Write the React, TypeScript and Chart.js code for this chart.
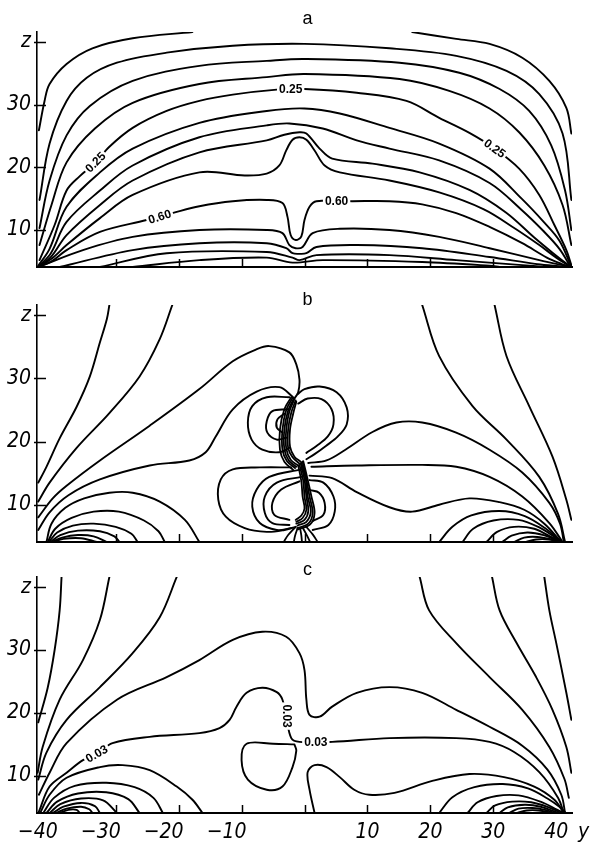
import { useEffect, useRef } from "react";
import { Chart, registerables } from "chart.js";

Chart.register(...registerables);

type Pt = [number, number];
type Tag = { x: number; z: number; text: string; angle: number };

// ---- axes ----
const hRange: Pt = [-42.5, 42.5];
const zRange: Pt = [4.1, 41.6];
const hTickValues = [-30, -20, -10, 0, 10, 20, 30];
const hLabelValues = [-40, -30, -20, -10, 10, 20, 30, 40];
const hLabelText = ["−40", "−30", "−20", "−10", "10", "20", "30", "40"];
const zTickValues = [10, 20, 30, 40];
const zTickText = ["10", "20", "30", "z"];
const hAxisName = "y";
const panelLetters = ["a", "b", "c"];

// ---- panel a: isolines ----
const aOuterLeft: Pt[] = [[-42.2, 25.9], [-41.3, 30.6], [-40.5, 33.3], [-37.8, 36.5], [-33.7, 39.0], [-27.3, 40.6], [-17.8, 41.6]];
const aOuterRight: Pt[] = [[17.1, 41.6], [24.1, 40.5], [29.4, 39.7], [34.6, 37.5], [38.9, 33.8], [41.6, 29.5], [42.4, 25.4]];
const aArch2: Pt[] = [[-42.1, 14.8], [-40.5, 23.8], [-37.8, 30.6], [-34.6, 34.3], [-29.8, 36.7], [-21.9, 38.3], [-11.4, 39.4], [0, 39.7], [13.5, 39.0], [24.1, 37.8], [32.1, 35.4], [37.3, 31.7], [41.0, 25.4], [42.4, 14.8]];
const aArch3: Pt[] = [[-42.1, 10.3], [-40.5, 17.9], [-37.8, 25.1], [-34.1, 29.8], [-27.3, 33.8], [-16.7, 36.2], [-6.0, 37.0], [0, 37.3], [15.1, 36.7], [24.6, 35.1], [31.0, 32.5], [35.7, 29.0], [39.2, 23.5], [41.4, 16.3], [42.4, 10.0]];
const aArch4: Pt[] = [[-42.1, 7.6], [-40.2, 14.0], [-37.8, 20.8], [-33.3, 26.2], [-27.3, 30.3], [-16.7, 33.3], [-6.0, 34.4], [0, 34.9], [15.1, 34.1], [23.0, 32.2], [29.4, 29.4], [34.1, 25.6], [38.1, 20.3], [41.0, 14.0], [42.4, 7.6]];
const aLevel025: Pt[] = [[-42.1, 5.2], [-39.7, 10.8], [-37.8, 16.3], [-35.7, 18.6], [-33.2, 20.8], [-31.0, 23.3], [-27.3, 26.3], [-21.9, 29.0], [-16.7, 30.6], [-11.4, 31.6], [-4.4, 32.4], [0, 32.5], [8.3, 31.9], [16.2, 30.6], [21.4, 27.9], [26.2, 25.5], [30.2, 23.0], [34.1, 19.8], [37.3, 15.6], [39.7, 10.8], [41.6, 6.8], [42.4, 4.4]];
const aArch6: Pt[] = [[-42.3, 4.3], [-40.5, 7.0], [-37.8, 13.7], [-32.5, 19.2], [-27.3, 23.0], [-16.7, 27.1], [-6.0, 29.0], [0, 29.4], [5.6, 28.6], [13.5, 26.3], [21.4, 23.8], [29.4, 19.8], [34.5, 15.0], [38.0, 11.3], [40.5, 8.3], [42.3, 4.4]];
const aArch7: Pt[] = [[-42.3, 4.1], [-40.3, 6.3], [-37.8, 11.3], [-32.5, 16.3], [-27.3, 20.3], [-16.7, 24.8], [-6.0, 26.7], [-2.4, 27.0], [2.9, 26.2], [8.3, 24.3], [13.5, 23.0], [21.4, 21.1], [29.4, 17.5], [34.5, 13.2], [38.0, 9.8], [40.5, 7.0], [42.3, 4.1]];
const aArch8: Pt[] = [[-42.3, 4.1], [-40.2, 5.8], [-37.8, 9.2], [-32.5, 14.0], [-27.3, 17.9], [-16.7, 22.4], [-6.0, 24.3], [-3.2, 25.2], [-0.8, 25.6], [0.3, 25.4], [2.4, 23.0], [4.4, 21.4], [10.8, 20.6], [18.3, 19.2], [26.2, 16.4], [32.0, 12.8], [36.5, 8.8], [39.5, 6.3], [42.3, 4.1]];
const aArch9: Pt[] = [[-42.3, 4.1], [-40.2, 5.4], [-37.8, 7.6], [-32.5, 11.9], [-27.3, 15.6], [-16.7, 19.2], [-9.5, 18.7], [-6.0, 19.0], [-4.0, 20.3], [-2.9, 22.7], [-1.9, 24.4], [-0.8, 24.8], [0.3, 24.4], [1.6, 22.7], [3.2, 20.3], [5.6, 19.2], [13.5, 17.9], [21.4, 16.0], [28.5, 13.3], [33.5, 10.2], [37.3, 7.6], [40.0, 5.6], [42.3, 4.1]];
const aLevel060: Pt[] = [[-42.3, 4.1], [-40.2, 5.0], [-37.8, 6.8], [-32.5, 9.7], [-25.1, 11.6], [-21.0, 12.7], [-16.7, 13.8], [-11.4, 14.6], [-6.0, 14.8], [-3.5, 14.3], [-2.7, 12.1], [-2.2, 9.2], [-1.4, 8.4], [-0.5, 9.0], [0, 11.6], [0.8, 13.7], [1.9, 14.6], [7.6, 14.6], [13.5, 14.6], [18.7, 14.1], [24.1, 12.7], [29.4, 10.5], [34.6, 7.9], [38.5, 5.6], [40.8, 4.6], [42.3, 4.1]];
const aLow1: Pt[] = [[-42.3, 4.1], [-35.2, 6.8], [-27.3, 8.9], [-16.7, 10.0], [-6.0, 10.0], [-3.5, 9.5], [-2.4, 7.6], [-1.4, 7.1], [-0.3, 7.3], [1.3, 9.5], [5.6, 10.2], [13.5, 10.0], [21.4, 8.9], [29.4, 7.1], [37.3, 5.2], [42.3, 4.1]];
const aLow2: Pt[] = [[-38.9, 4.1], [-27.3, 6.8], [-16.7, 7.9], [-6.0, 7.9], [-2.9, 7.1], [-1.9, 6.3], [-0.8, 6.2], [0.3, 6.3], [1.9, 7.3], [8.3, 7.6], [18.7, 7.1], [29.4, 5.7], [37.5, 4.5], [42.0, 4.1]];
const aLow3: Pt[] = [[-32.5, 4.1], [-21.9, 6.3], [-6.0, 6.5], [-1.9, 5.6], [-0.8, 5.2], [1.9, 6.0], [13.5, 6.0], [24.1, 5.2], [34.6, 4.4], [38.1, 4.1]];
const aLow4: Pt[] = [[-27.3, 4.1], [-16.7, 5.2], [-6.0, 5.6], [-1.9, 4.8], [2.9, 5.2], [18.7, 4.9], [29.4, 4.3], [31.0, 4.1]];

const aTags: Tag[] = [
  { x: -2.2, z: 32.5, text: "0.25", angle: 0 },
  { x: -33.2, z: 20.8, text: "0.25", angle: -45 },
  { x: 30.2, z: 23.0, text: "0.25", angle: 36 },
  { x: -23.0, z: 12.1, text: "0.60", angle: -18 },
  { x: 5.1, z: 14.6, text: "0.60", angle: 0 },
];

// ---- panel b: isolines ----
const bFanOuter: Pt[] = [[-42.3, 13.5], [-41.0, 16.0], [-38.9, 20.5], [-36.2, 25.5], [-34.1, 30.3], [-32.5, 35.7], [-31.4, 39.4], [-31.0, 41.6]];
const bFanInner: Pt[] = [[-42.3, 10.5], [-40.5, 13.5], [-36.2, 19.0], [-31.0, 24.5], [-26.2, 30.3], [-23.0, 36.2], [-21.0, 41.6]];
const bHump: Pt[] = [[-42.3, 8.0], [-40.0, 11.0], [-37.8, 13.0], [-32.5, 17.0], [-24.6, 22.5], [-16.7, 28.3], [-11.4, 32.7], [-7.6, 34.6], [-5.6, 35.1], [-2.4, 34.1], [-1.3, 32.2], [-0.8, 29.8], [-1.0, 27.8], [-1.6, 26.8]];
const bStep: Pt[] = [[-42.3, 6.0], [-40.5, 8.8], [-37.5, 11.5], [-32.5, 14.0], [-24.6, 16.2], [-18.3, 17.0], [-15.7, 18.3], [-14.1, 20.8], [-11.4, 25.1], [-7.6, 27.9], [-4.0, 28.6], [-1.9, 27.1], [-1.7, 26.8]];
const bEyeOuter: Pt[] = [[-2.4, 27.0], [-6.0, 27.0], [-8.3, 25.6], [-9.0, 23.0], [-8.4, 20.3], [-6.7, 18.7], [-4.0, 18.3], [-2.4, 19.0]];
const bEyeMiddle: Pt[] = [[-2.7, 25.1], [-5.1, 24.8], [-6.0, 23.2], [-5.9, 21.4], [-4.4, 20.3], [-2.9, 20.6]];
const bEyeInner: Pt[] = [[-3.2, 24.4], [-4.3, 23.5], [-4.4, 22.2], [-3.5, 21.4]];
const bBandUp1: Pt[] = [[-2.1, 27.0], [-3.2, 25.1], [-3.9, 21.9], [-3.9, 18.7], [-3.2, 16.8], [-1.8, 15.5]];
const bBandUp2: Pt[] = [[-1.9, 26.9], [-2.9, 25.0], [-3.5, 21.9], [-3.5, 18.7], [-2.8, 16.9], [-1.5, 15.8]];
const bBandUp3: Pt[] = [[-1.7, 26.8], [-2.6, 24.9], [-3.2, 21.9], [-3.2, 18.8], [-2.5, 17.0], [-1.3, 16.0]];
const bBandUp4: Pt[] = [[-1.6, 26.7], [-2.4, 24.8], [-2.9, 21.9], [-2.9, 18.9], [-2.2, 17.1], [-1.0, 16.2]];
const bBandUp5: Pt[] = [[-1.4, 26.5], [-2.1, 24.6], [-2.6, 21.9], [-2.6, 19.0], [-1.9, 17.5], [-0.8, 16.5]];
const bBandUp6: Pt[] = [[-1.3, 26.3], [-1.8, 24.4], [-2.3, 21.9], [-2.3, 19.2], [-1.6, 17.6], [-0.6, 16.8]];
const bLobeUpOuter: Pt[] = [[-1.1, 27.5], [0, 28.3], [2.4, 28.7], [5.1, 27.8], [6.7, 25.4], [6.7, 22.7], [5.3, 20.8], [3.4, 19.3], [1.6, 18.0], [0.3, 17.2]];
const bLobeUpInner: Pt[] = [[-1.0, 26.0], [0.5, 26.8], [2.7, 26.7], [4.3, 25.1], [4.6, 22.7], [3.7, 20.8], [1.9, 19.3], [0.3, 18.2]];
const bBandLow1: Pt[] = [[-0.2, 16.9], [0.5, 14.0], [1.1, 11.3], [1.6, 8.7], [0.9, 6.9], [-1.0, 6.1]];
const bBandLow2: Pt[] = [[-0.3, 16.8], [0.3, 14.0], [0.8, 11.3], [1.3, 8.7], [0.6, 7.0], [-1.1, 6.3]];
const bBandLow3: Pt[] = [[-0.5, 16.7], [0.2, 14.0], [0.5, 11.3], [1.0, 8.9], [0.3, 7.3], [-1.1, 6.7]];
const bBandLow4: Pt[] = [[-0.6, 16.5], [0, 14.0], [0.3, 11.3], [0.6, 9.0], [0, 7.6], [-1.3, 7.0]];
const bBandLow5: Pt[] = [[-0.8, 16.3], [-0.2, 13.8], [0, 11.3], [0.3, 9.2], [-0.3, 7.9], [-1.3, 7.3]];
const bBandLow6: Pt[] = [[-1.0, 16.2], [-0.5, 13.7], [-0.3, 11.3], [0, 9.4], [-0.5, 8.3], [-1.4, 7.6]];
const bLobeLow1: Pt[] = [[-2.1, 15.9], [-7.1, 15.9], [-11.4, 15.6], [-13.3, 14.0], [-13.7, 10.8], [-12.5, 8.1], [-9.5, 6.3], [-6.0, 5.7], [-3.2, 6.0], [-1.4, 6.5]];
const bLobeLow2: Pt[] = [[-0.5, 15.6], [-5.6, 14.4], [-7.6, 12.4], [-8.3, 9.7], [-7.1, 7.1], [-4.4, 6.0], [-2.1, 6.3]];
const bLobeLow3: Pt[] = [[-0.5, 14.4], [-4.4, 13.5], [-6.3, 11.3], [-6.3, 8.7], [-5.1, 7.1], [-2.4, 6.8]];
const bLobeLow4: Pt[] = [[-0.8, 13.7], [-3.7, 12.4], [-5.1, 10.3], [-4.8, 8.4], [-2.4, 7.6]];
const bLoopRight1: Pt[] = [[0.9, 12.3], [2.3, 11.9], [3.2, 10.3], [3.0, 8.4], [1.3, 7.4]];
const bLoopRight2: Pt[] = [[0.8, 13.9], [3.0, 13.5], [4.6, 11.3], [4.8, 8.9], [3.8, 6.8], [1.3, 6.0]];
const bFoot1: Pt[] = [[-1.4, 6.5], [-2.6, 5.2], [-3.3, 4.1]];
const bFoot2: Pt[] = [[-1.1, 6.3], [-1.5, 5.1], [-1.7, 4.1]];
const bFoot3: Pt[] = [[-0.7, 6.3], [-0.5, 5.1], [-0.4, 4.1]];
const bFoot4: Pt[] = [[-0.3, 6.4], [0.4, 5.1], [0.9, 4.1]];
const bFoot5: Pt[] = [[0.2, 6.6], [1.3, 5.3], [2.1, 4.1]];
const bRightHump: Pt[] = [[0.6, 16.6], [3.5, 17.0], [6.5, 18.7], [10.8, 21.5], [14.6, 23.0], [18.7, 23.0], [24.1, 21.4], [29.4, 18.7], [34.6, 15.1], [38.9, 10.3], [40.6, 7.0], [41.2, 4.1]];
const bRightMid: Pt[] = [[1.1, 16.0], [8.3, 16.2], [18.7, 16.3], [24.1, 16.0], [29.4, 14.4], [34.6, 11.3], [38.9, 7.1], [41.0, 4.1]];
const bRightDip: Pt[] = [[0.8, 14.6], [4.4, 14.2], [8.3, 12.0], [13.5, 9.6], [17.1, 8.9], [21.4, 10.0], [26.2, 11.0], [31.0, 10.4], [34.9, 9.2], [38.1, 7.0], [40.8, 4.1]];
const bFanRight1: Pt[] = [[18.7, 41.6], [21.4, 33.5], [26.7, 25.6], [32.1, 20.3], [37.3, 14.4], [40.3, 8.5], [41.4, 4.1]];
const bFanRight2: Pt[] = [[30.2, 41.6], [32.1, 33.5], [35.7, 25.6], [39.4, 17.6], [41.6, 10.8], [42.4, 7.6]];
const bArcRight1: Pt[] = [[21.4, 4.1], [23.5, 6.5], [26.5, 8.3], [31.0, 9.0], [35.0, 8.2], [38.2, 6.3], [40.8, 4.1]];
const bArcRight2: Pt[] = [[25.1, 4.1], [26.8, 6.2], [30.0, 7.5], [34.0, 7.6], [37.3, 6.4], [39.7, 4.9], [40.8, 4.1]];
const bArcRight3: Pt[] = [[28.9, 4.1], [30.6, 5.7], [33.3, 6.5], [36.5, 6.2], [39.0, 5.0], [40.8, 4.1]];
const bArcRight4: Pt[] = [[31.4, 4.1], [32.9, 5.1], [35.4, 5.6], [38.0, 5.2], [40.8, 4.1]];
const bArcRight5: Pt[] = [[33.3, 4.1], [34.9, 4.8], [37.0, 4.9], [39.3, 4.5], [40.8, 4.1]];
const bArcRight6: Pt[] = [[35.2, 4.1], [36.8, 4.5], [38.8, 4.5], [40.8, 4.1]];
const bArcLeft1: Pt[] = [[-41.0, 4.1], [-40.2, 7.0], [-38.0, 9.5], [-35.0, 11.0], [-31.0, 11.9], [-27.3, 11.9], [-23.0, 10.5], [-19.0, 7.6], [-16.7, 4.1]];
const bArcLeft2: Pt[] = [[-40.8, 4.1], [-39.6, 6.2], [-37.0, 7.9], [-33.5, 8.9], [-29.5, 8.9], [-25.5, 7.5], [-23.2, 5.8], [-22.2, 4.1]];
const bArcLeft3: Pt[] = [[-40.6, 4.1], [-39.3, 5.6], [-36.8, 6.7], [-33.5, 7.0], [-30.0, 6.5], [-27.5, 5.4], [-26.5, 4.1]];
const bArcLeft4: Pt[] = [[-40.4, 4.1], [-38.8, 5.2], [-36.0, 5.9], [-32.5, 5.8], [-30.2, 5.0], [-29.4, 4.1]];
const bArcLeft5: Pt[] = [[-40.2, 4.1], [-38.5, 4.8], [-36.0, 5.2], [-33.5, 5.0], [-31.4, 4.1]];
const bArcLeft6: Pt[] = [[-40.0, 4.1], [-38.3, 4.6], [-35.5, 4.7], [-33.0, 4.1]];

// ---- panel c: isolines ----
const cFan1: Pt[] = [[-38.6, 41.6], [-38.9, 36.3], [-39.7, 30.0], [-40.8, 24.0], [-42.3, 18.5]];
const cFan2: Pt[] = [[-31.0, 41.6], [-32.5, 34.8], [-35.2, 28.4], [-38.9, 22.1], [-41.6, 14.6], [-42.4, 10.5]];
const cFan3: Pt[] = [[-20.3, 41.6], [-23.0, 35.2], [-27.3, 29.5], [-32.5, 24.1], [-37.8, 18.9], [-41.0, 13.7], [-42.3, 9.4]];
const cHump: Pt[] = [[-42.2, 7.0], [-40.5, 10.5], [-37.8, 15.2], [-29.8, 22.1], [-21.9, 25.7], [-16.7, 28.4], [-11.4, 31.6], [-6.7, 32.9], [-2.9, 32.1], [-0.8, 29.5], [0, 26.8], [0.3, 22.1], [0.8, 19.7], [2.4, 19.4], [4.4, 21.0], [8.3, 23.2], [13.5, 24.1], [18.7, 23.2], [24.1, 20.5], [29.4, 17.8], [34.6, 14.8], [38.6, 11.0], [40.8, 7.0], [41.4, 4.1]];
const cLevel003: Pt[] = [[-42.2, 4.3], [-40.5, 8.3], [-37.8, 10.5], [-35.2, 12.5], [-33.0, 13.5], [-30.5, 15.2], [-24.6, 16.2], [-16.7, 16.8], [-13.5, 17.6], [-11.9, 18.9], [-10.8, 21.0], [-9.2, 23.2], [-6.7, 24.0], [-4.4, 23.3], [-3.5, 22.1], [-2.9, 19.4], [-2.1, 16.0], [-0.8, 15.4], [4.4, 15.4], [13.5, 16.0], [24.1, 16.0], [29.4, 15.4], [33.3, 13.8], [37.3, 10.6], [40.3, 6.5], [41.2, 4.1]];
const cLoop: Pt[] = [[-1.6, 15.0], [-5.0, 15.1], [-9.2, 15.1], [-10.0, 12.5], [-9.0, 9.4], [-6.0, 7.8], [-3.5, 8.3], [-1.9, 11.4], [-1.3, 14.0], [-1.6, 15.0]];
const cArcLeft0: Pt[] = [[-42.0, 4.1], [-40.5, 7.0], [-37.8, 9.7], [-32.5, 11.4], [-28.9, 11.7], [-24.6, 10.9], [-20.3, 8.3], [-17.8, 6.2], [-16.2, 4.1]];
const cArcLeft1: Pt[] = [[-41.5, 4.1], [-39.8, 6.5], [-36.5, 8.4], [-31.5, 8.9], [-27.0, 8.2], [-24.0, 6.5], [-22.5, 4.1]];
const cArcLeft2: Pt[] = [[-41.0, 4.1], [-39.3, 5.9], [-36.0, 7.2], [-31.5, 7.4], [-28.0, 6.3], [-26.2, 4.1]];
const cArcLeft3: Pt[] = [[-40.5, 4.1], [-38.8, 5.5], [-35.5, 6.4], [-32.0, 6.1], [-29.8, 4.1]];
const cArcLeft4: Pt[] = [[-40.0, 4.1], [-38.3, 5.1], [-35.5, 5.7], [-33.3, 5.2], [-32.5, 4.1]];
const cArcLeft5: Pt[] = [[-39.5, 4.1], [-37.8, 4.8], [-35.5, 5.1], [-34.2, 4.7], [-33.7, 4.1]];
const cArcLeft6: Pt[] = [[-39.0, 4.1], [-37.5, 4.6], [-36.2, 4.6], [-35.7, 4.1]];
const cDip: Pt[] = [[1.6, 4.1], [0.8, 7.8], [0.5, 10.6], [1.6, 11.7], [3.5, 11.4], [5.6, 9.8], [7.9, 7.8], [10.3, 7.0], [14.3, 7.3], [20.3, 9.2], [26.2, 10.3], [31.7, 9.8], [36.5, 8.3], [39.7, 6.2], [41.2, 4.1]];
const cArcRight1: Pt[] = [[21.4, 4.1], [23.5, 6.6], [27.0, 8.2], [31.5, 8.7], [35.5, 8.0], [38.6, 6.4], [40.6, 5.0], [41.5, 4.1]];
const cArcRight2: Pt[] = [[25.9, 4.1], [27.5, 5.8], [30.5, 6.8], [34.0, 6.9], [37.5, 5.9], [40.2, 4.6], [41.2, 4.1]];
const cArcRight3: Pt[] = [[28.9, 4.1], [30.3, 5.3], [33.0, 5.9], [36.0, 5.8], [38.8, 5.0], [40.8, 4.1]];
const cArcRight4: Pt[] = [[31.0, 4.1], [32.3, 5.0], [35.0, 5.4], [37.5, 5.1], [40.3, 4.1]];
const cArcRight5: Pt[] = [[32.5, 4.1], [34.0, 4.8], [36.2, 4.9], [38.2, 4.6], [39.8, 4.1]];
const cArcRight6: Pt[] = [[33.8, 4.1], [35.3, 4.5], [37.2, 4.5], [39.3, 4.1]];
const cFanRight1: Pt[] = [[18.3, 41.6], [19.8, 36.3], [24.1, 31.1], [29.4, 25.7], [34.6, 20.5], [38.9, 14.6], [41.3, 9.5], [42.0, 6.5]];
const cFanRight2: Pt[] = [[29.8, 41.6], [31.0, 36.3], [33.7, 31.1], [36.8, 25.7], [39.4, 20.5], [41.6, 14.6], [42.4, 10.5]];
const cFanRight3: Pt[] = [[38.1, 41.6], [38.9, 36.3], [40.0, 31.1], [41.6, 23.2], [42.4, 18.9]];

const cTags: Tag[] = [
  { x: -33.0, z: 13.5, text: "0.03", angle: -30 },
  { x: -2.8, z: 19.5, text: "0.03", angle: 90 },
  { x: 1.8, z: 15.4, text: "0.03", angle: 0 },
];

type PanelData = { lines: Pt[][]; dense: Pt[][]; tags: Tag[] };

const panels: PanelData[] = [
  {
    lines: [aOuterLeft, aOuterRight, aArch2, aArch3, aArch4, aLevel025, aArch6, aArch7, aArch8, aArch9, aLevel060, aLow1, aLow2, aLow3, aLow4],
    dense: [],
    tags: aTags,
  },
  {
    lines: [bFanOuter, bFanInner, bHump, bStep, bEyeOuter, bEyeMiddle, bEyeInner, bLobeUpOuter, bLobeUpInner,
      bLobeLow1, bLobeLow2, bLobeLow3, bLobeLow4, bLoopRight1, bLoopRight2, bRightHump, bRightMid, bRightDip,
      bFanRight1, bFanRight2, bArcRight1, bArcRight2, bArcRight3, bArcRight4, bArcRight5, bArcRight6,
      bArcLeft1, bArcLeft2, bArcLeft3, bArcLeft4, bArcLeft5, bArcLeft6],
    dense: [bBandUp1, bBandUp2, bBandUp3, bBandUp4, bBandUp5, bBandUp6,
      bBandLow1, bBandLow2, bBandLow3, bBandLow4, bBandLow5, bBandLow6,
      bFoot1, bFoot2, bFoot3, bFoot4, bFoot5],
    tags: [],
  },
  {
    lines: [cFan1, cFan2, cFan3, cHump, cLevel003, cLoop, cArcLeft0, cArcLeft1, cArcLeft2, cArcLeft3, cArcLeft4, cArcLeft5, cArcLeft6,
      cDip, cArcRight1, cArcRight2, cArcRight3, cArcRight4, cArcRight5, cArcRight6, cFanRight1, cFanRight2, cFanRight3],
    dense: [],
    tags: cTags,
  },
];

// ---- page geometry and styling ----
const frames = [
  { top: 0, height: 285, padTop: 32, axisHeight: 18, letterBase: 24, labels: false },
  { top: 285, height: 270, padTop: 20, axisHeight: 13, letterBase: 20, labels: false },
  { top: 555, height: 289, padTop: 22, axisHeight: 31, letterBase: 20, labels: true },
];
type Frame = (typeof frames)[number];

const INK = "#000000";
const NUM_FAMILY = "'DejaVu Sans Condensed', 'DejaVu Sans', sans-serif";
const NUM_FONT = `italic 21px ${NUM_FAMILY}`;
const TAG_FONT = "bold 12px 'Liberation Sans', Arial, sans-serif";
const LETTER_FONT = "18px 'Liberation Sans', Arial, sans-serif";

function decorations(index: number, panel: PanelData, frame: Frame) {
  return {
    id: `decor${index}`,
    afterDatasetsDraw(chart: Chart) {
      const { ctx } = chart;
      const xs = chart.scales.x;
      const ys = chart.scales.y;
      ctx.save();
      ctx.font = TAG_FONT;
      ctx.textAlign = "center";
      ctx.textBaseline = "middle";
      for (const t of panel.tags) {
        const px = xs.getPixelForValue(t.x);
        const py = ys.getPixelForValue(t.z);
        ctx.save();
        ctx.translate(px, py);
        ctx.rotate((t.angle * Math.PI) / 180);
        const w = ctx.measureText(t.text).width;
        ctx.fillStyle = "#ffffff";
        ctx.fillRect(-w / 2 - 2, -6, w + 4, 12);
        ctx.fillStyle = INK;
        ctx.fillText(t.text, 0, 0.5);
        ctx.restore();
      }
      ctx.restore();
    },
    afterDraw(chart: Chart) {
      const { ctx, chartArea } = chart;
      const xs = chart.scales.x;
      const ys = chart.scales.y;
      ctx.save();
      ctx.strokeStyle = INK;
      ctx.lineWidth = 1.5;
      ctx.beginPath();
      for (const v of hTickValues) {
        const px = Math.round(xs.getPixelForValue(v)) + 0.5;
        ctx.moveTo(px, chartArea.bottom);
        ctx.lineTo(px, chartArea.bottom - 8);
      }
      for (const v of zTickValues) {
        const py = Math.round(ys.getPixelForValue(v)) + 0.5;
        ctx.moveTo(chartArea.left - 3, py);
        ctx.lineTo(chartArea.left + 9, py);
      }
      ctx.stroke();

      ctx.fillStyle = INK;
      ctx.font = LETTER_FONT;
      ctx.textAlign = "center";
      ctx.textBaseline = "alphabetic";
      ctx.fillText(panelLetters[index], xs.getPixelForValue(0) + 3, frame.letterBase);

      if (frame.labels) {
        ctx.font = NUM_FONT;
        const base = chartArea.bottom + 25;
        hLabelValues.forEach((v, i) => {
          const px = xs.getPixelForValue(v);
          if (v < 0) {
            ctx.textAlign = "right";
            ctx.fillText(hLabelText[i], px + 5, base);
          } else {
            ctx.textAlign = "center";
            ctx.fillText(hLabelText[i], px, base);
          }
        });
        ctx.textAlign = "left";
        ctx.fillText(hAxisName, chartArea.right + 6, base);
      }
      ctx.restore();
    },
  };
}

function buildConfig(index: number, panel: PanelData, frame: Frame): any {
  const make = (pts: Pt[], width: number) => ({
    data: pts.map(([x, y]) => ({ x, y })),
    showLine: true,
    fill: false,
    borderColor: INK,
    borderWidth: width,
    borderJoinStyle: "round",
    borderCapStyle: "round",
    pointRadius: 0,
    pointHoverRadius: 0,
    tension: 0.35,
  });
  return {
    type: "scatter",
    data: {
      datasets: [...panel.lines.map((l) => make(l, 1.9)), ...panel.dense.map((l) => make(l, 1.8))],
    },
    options: {
      responsive: false,
      animation: false,
      events: [],
      layout: { padding: { top: frame.padTop, right: 18, bottom: 0, left: 0 } },
      plugins: { legend: { display: false }, tooltip: { enabled: false }, title: { display: false } },
      scales: {
        x: {
          type: "linear",
          min: hRange[0],
          max: hRange[1],
          grid: { display: false, drawTicks: false },
          border: { display: true, color: INK, width: 2 },
          ticks: { display: false },
          afterBuildTicks: (s: any) => {
            s.ticks = hTickValues.map((value) => ({ value }));
          },
          afterFit: (s: any) => {
            s.height = frame.axisHeight;
            s.paddingLeft = 0;
            s.paddingRight = 0;
          },
        },
        y: {
          type: "linear",
          min: zRange[0],
          max: zRange[1],
          grid: { display: false, drawTicks: false },
          border: { display: true, color: INK, width: 1.6 },
          ticks: {
            color: INK,
            padding: 6,
            font: { family: NUM_FAMILY, size: 21, style: "italic" },
            callback: (v: any) => {
              const k = zTickValues.indexOf(Number(v));
              return k >= 0 ? zTickText[k] : "";
            },
          },
          afterBuildTicks: (s: any) => {
            s.ticks = zTickValues.map((value) => ({ value }));
          },
          afterFit: (s: any) => {
            s.width = 37;
            s.paddingTop = 0;
            s.paddingBottom = 0;
          },
        },
      },
    },
    plugins: [decorations(index, panel, frame)],
  };
}

function PanelChart({ index }: { index: number }) {
  const ref = useRef<HTMLCanvasElement>(null);
  const frame = frames[index];
  useEffect(() => {
    if (!ref.current) return;
    const chart = new Chart(ref.current, buildConfig(index, panels[index], frame));
    return () => chart.destroy();
  }, [index]);
  return (
    <canvas
      ref={ref}
      width={590}
      height={frame.height}
      style={{ position: "absolute", left: 0, top: frame.top, width: 590, height: frame.height }}
    />
  );
}

export default function App() {
  return (
    <div style={{ position: "absolute", left: 0, top: 0, width: 590, height: 844, background: "#ffffff", overflow: "hidden" }}>
      {frames.map((_, i) => (
        <PanelChart key={i} index={i} />
      ))}
    </div>
  );
}
